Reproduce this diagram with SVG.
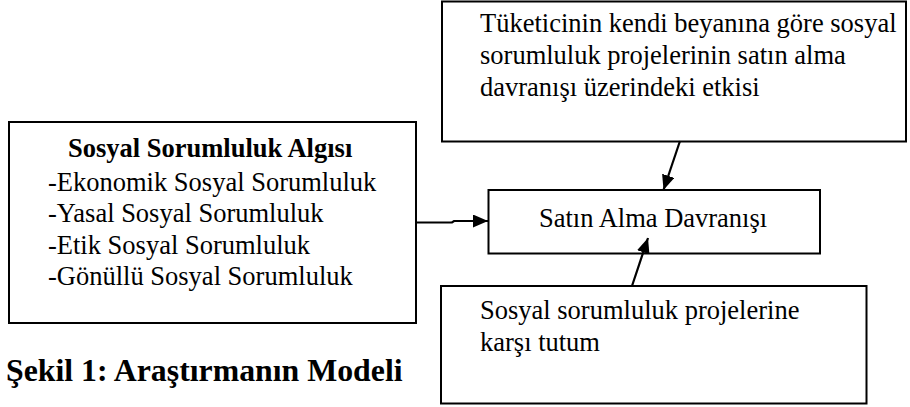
<svg xmlns="http://www.w3.org/2000/svg" width="910" height="407" viewBox="0 0 910 407">
<style>
.box{fill:#fff;stroke:#000;stroke-width:2}
.t{font-family:"Liberation Serif","Times New Roman",serif;font-size:26.5px;fill:#000}
.b{font-weight:bold}
.cap{font-size:31.8px}
.edge{fill:none;stroke:#000;stroke-width:2.2}
</style>
<defs>
<marker id="ah" markerUnits="userSpaceOnUse" markerWidth="16" markerHeight="14" refX="15" refY="6.5" orient="auto">
<path d="M0,0 L15,6.5 L0,13 z" fill="#000"/>
</marker>
</defs>
<rect width="910" height="407" fill="#fff"/>
<g id="node-top">
<rect class="box" x="442" y="1.5" width="464" height="140"/>
<text class="t" x="480" y="32">Tüketicinin kendi beyanına göre sosyal</text>
<text class="t" x="480" y="64">sorumluluk projelerinin satın alma</text>
<text class="t" x="480" y="96">davranışı üzerindeki etkisi</text>
</g>
<g id="node-left">
<rect class="box" x="9" y="122" width="407" height="201"/>
<text class="t b" x="68" y="157">Sosyal Sorumluluk Algısı</text>
<text class="t" x="48" y="191">-Ekonomik Sosyal Sorumluluk</text>
<text class="t" x="48" y="222">-Yasal Sosyal Sorumluluk</text>
<text class="t" x="48" y="254">-Etik Sosyal Sorumluluk</text>
<text class="t" x="48" y="285">-Gönüllü Sosyal Sorumluluk</text>
</g>
<g id="node-mid">
<rect class="box" x="488.5" y="190" width="331.5" height="63.5"/>
<text class="t" x="539" y="227">Satın Alma Davranışı</text>
</g>
<g id="node-bottom">
<rect class="box" x="441" y="286" width="425.5" height="117.5"/>
<text class="t" x="480" y="319">Sosyal sorumluluk projelerine</text>
<text class="t" x="480" y="351">karşı tutum</text>
</g>
<g id="connectors">
<path class="edge" d="M416,222.5 H452 L454,221 H488" marker-end="url(#ah)"/>
<path class="edge" d="M680,141 L663.5,190" marker-end="url(#ah)"/>
<path class="edge" d="M632,286 L648,238" marker-end="url(#ah)"/>
</g>
<text class="t b cap" x="6" y="381">Şekil 1: Araştırmanın Modeli</text>
</svg>
